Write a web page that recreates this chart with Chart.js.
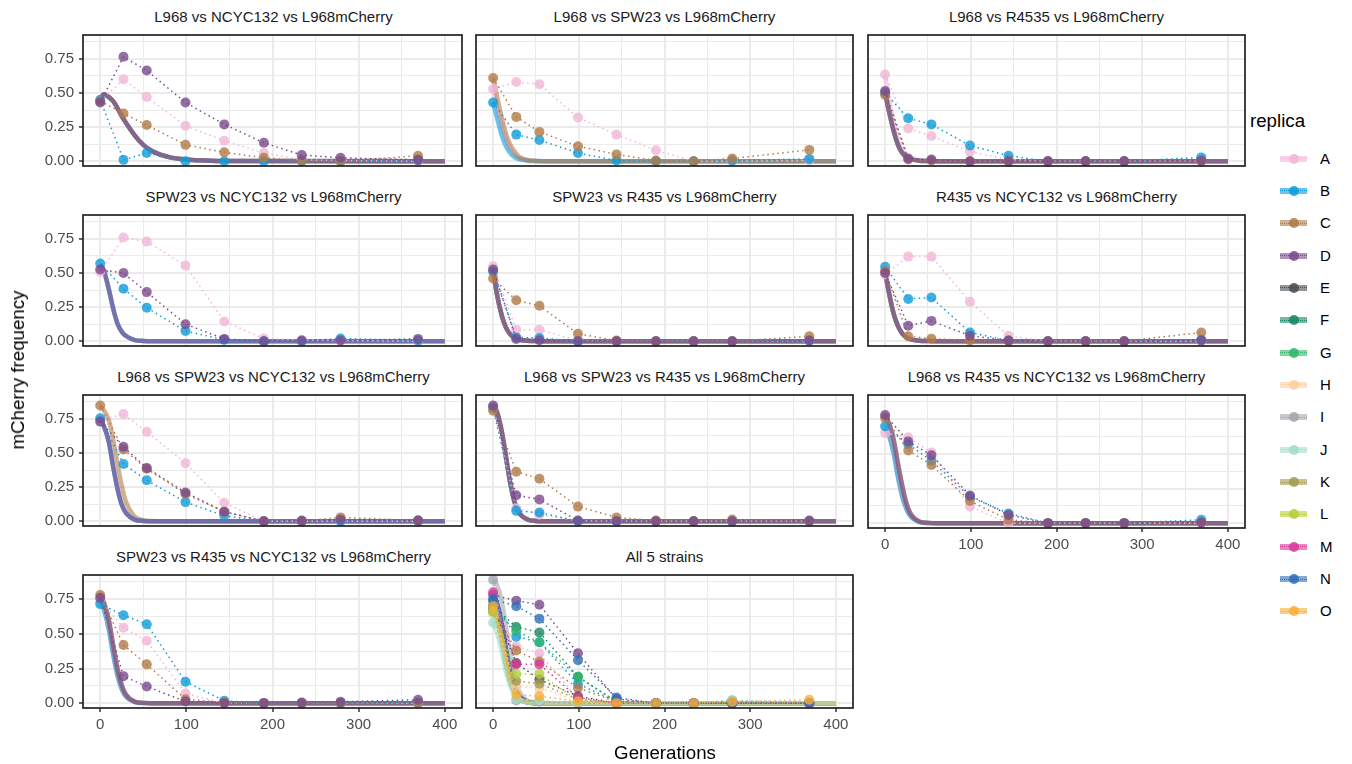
<!DOCTYPE html>
<html>
<head>
<meta charset="utf-8">
<script src="https://cdn.jsdelivr.net/npm/chart.js@4.4.1/dist/chart.umd.min.js"></script>
<style>
  body { margin:0; background:#fff; font-family:"Liberation Sans", Arial, sans-serif; }
  #page { position:relative; width:1352px; height:764px; overflow:hidden; }
  .panel { position:absolute; }
  .strip { position:absolute; width:381px; text-align:center; font-size:15px; color:#1a1a1a; white-space:nowrap; }
  .axis-title { position:absolute; font-size:18.7px; color:#000; white-space:nowrap; }
  .legend-title { position:absolute; left:1250px; top:110px; font-size:18.7px; color:#000; }
  .key { position:absolute; left:1280px; width:27px; height:20px; }
  .key .fit { position:absolute; left:0; top:7px; width:27px; height:6px; opacity:.6; }
  .key .dot { position:absolute; left:8.5px; top:5px; width:10px; height:10px; border-radius:50%; opacity:.85; }
  .key-label { position:absolute; left:1320px; font-size:15px; color:#000; }
</style>
</head>
<body>
<div id="page"></div>
<script>
/* ===========================
   mCherry frequency facets
   =========================== */

const GENS = [0, 27, 54, 99, 144, 190, 234, 279, 369];
const FIT_X = [0, 4, 10, 15, 20, 25, 30, 40, 50, 60, 80, 100, 150, 400];
const X_TICKS = [0, 100, 200, 300, 400];
const X_GRID = [0, 50, 100, 150, 200, 250, 300, 350, 400];
const Y_TICKS = [0, 0.25, 0.5, 0.75];
const Y_GRID = [0, 0.125, 0.25, 0.375, 0.5, 0.625, 0.75, 0.875];

const REPLICAS = ['A','B','C','D','E','F','G','H','I','J','K','L','M','N','O'];
const COLORS = ['#f0b6d6','#0e9bda','#b27a47','#7b4a8c','#474d54','#178767','#33b56b','#f9cfa5',
                '#a3a8ae','#a2ddcb','#a39a50','#b4ce3e','#d6399a','#2d6fb5','#f9ae37'];

const TITLES = [
  'L968 vs NCYC132 vs L968mCherry',
  'L968 vs SPW23 vs L968mCherry',
  'L968 vs R4535 vs L968mCherry',
  'SPW23 vs NCYC132 vs L968mCherry',
  'SPW23 vs R435 vs L968mCherry',
  'R435 vs NCYC132 vs L968mCherry',
  'L968 vs SPW23 vs NCYC132 vs L968mCherry',
  'L968 vs SPW23 vs R435 vs L968mCherry',
  'L968 vs R435 vs NCYC132 vs L968mCherry',
  'SPW23 vs R435 vs NCYC132 vs L968mCherry',
  'All 5 strains'
];

// observed frequencies per replica, one value per entry of GENS
const P1 = {
  A: [0.44, 0.60, 0.47, 0.26, 0.15, 0.06, 0.01, 0.005, 0],
  B: [0.45, 0.01, 0.06, 0, 0, 0, 0, 0, 0.01],
  C: [0.44, 0.35, 0.265, 0.12, 0.065, 0.025, 0.005, 0, 0.04],
  D: [0.43, 0.765, 0.665, 0.43, 0.27, 0.135, 0.045, 0.025, 0.01]
};
const P2 = {
  A: [0.53, 0.58, 0.565, 0.32, 0.195, 0.08, 0, 0, 0.005],
  B: [0.43, 0.195, 0.155, 0.06, 0.005, 0, 0, 0.005, 0.017],
  C: [0.61, 0.325, 0.215, 0.11, 0.05, 0.005, 0, 0.02, 0.083]
};
const P3 = {
  A: [0.635, 0.24, 0.185, 0.07, 0.012, 0, 0, 0, 0],
  B: [0.5, 0.315, 0.27, 0.115, 0.04, 0, 0, 0, 0.028],
  C: [0.485, 0.012, 0.005, 0, 0, 0, 0, 0, 0],
  D: [0.515, 0.02, 0.012, 0, 0, 0, 0, 0, 0.005]
};
const P4 = {
  A: [0.51, 0.76, 0.73, 0.555, 0.145, 0.02, 0.01, 0.005, 0],
  B: [0.57, 0.385, 0.245, 0.075, 0.01, 0, 0, 0.02, 0.005],
  D: [0.525, 0.50, 0.36, 0.125, 0.017, 0, 0.005, 0.005, 0.017]
};
const P5 = {
  A: [0.55, 0.085, 0.085, 0.005, 0, 0, 0, 0, 0],
  B: [0.51, 0.028, 0.024, 0, 0, 0, 0, 0, 0.005],
  C: [0.46, 0.30, 0.26, 0.054, 0.005, 0, 0, 0, 0.036],
  D: [0.525, 0.017, 0.007, 0, 0, 0, 0, 0, 0.005]
};
const P6 = {
  A: [0.49, 0.62, 0.62, 0.29, 0.04, 0, 0, 0, 0],
  B: [0.545, 0.31, 0.32, 0.064, 0.005, 0, 0, 0, 0.012],
  C: [0.515, 0.036, 0.019, 0.005, 0, 0, 0, 0, 0.064],
  D: [0.50, 0.114, 0.149, 0.04, 0.005, 0, 0, 0, 0.005]
};
const P7 = {
  A: [0.74, 0.785, 0.655, 0.425, 0.135, 0, 0, 0, 0],
  B: [0.755, 0.42, 0.30, 0.14, 0.04, 0, 0, 0, 0],
  C: [0.848, 0.525, 0.385, 0.20, 0.07, 0, 0, 0.028, 0.005],
  D: [0.73, 0.545, 0.39, 0.21, 0.07, 0, 0.005, 0.012, 0.007]
};
const P8 = {
  A: [0.84, 0.095, 0.047, 0.005, 0, 0, 0, 0, 0],
  B: [0.83, 0.076, 0.064, 0, 0, 0, 0, 0, 0],
  C: [0.81, 0.362, 0.312, 0.107, 0.028, 0.005, 0, 0.012, 0],
  D: [0.848, 0.19, 0.16, 0.005, 0, 0, 0, 0, 0.005]
};
const P9 = {
  A: [0.65, 0.62, 0.51, 0.12, 0, 0, 0, 0, 0],
  B: [0.70, 0.57, 0.45, 0.19, 0.07, 0, 0, 0, 0.024],
  C: [0.76, 0.525, 0.42, 0.16, 0.024, 0, 0, 0, 0.005],
  D: [0.78, 0.59, 0.49, 0.20, 0.059, 0, 0, 0, 0.005]
};
const P10 = {
  A: [0.745, 0.545, 0.45, 0.07, 0, 0, 0, 0, 0],
  B: [0.715, 0.635, 0.57, 0.155, 0.017, 0, 0, 0, 0.005],
  C: [0.78, 0.42, 0.28, 0.028, 0.005, 0, 0, 0, 0],
  D: [0.76, 0.195, 0.12, 0.012, 0, 0, 0.005, 0.01, 0.024]
};
const P11 = {
  A: [0.72, 0.41, 0.36, 0.03, 0, 0, 0, 0.005, 0],
  B: [0.74, 0.48, 0.44, 0.14, 0.01, 0, 0, 0, 0],
  C: [0.67, 0.38, 0.30, 0.11, 0.01, 0, 0, 0.01, 0],
  D: [0.78, 0.74, 0.71, 0.36, 0.03, 0, 0, 0, 0],
  E: [0.70, 0.29, 0.17, 0.05, 0, 0, 0, 0, 0],
  F: [0.70, 0.55, 0.51, 0.19, 0.01, 0, 0, 0, 0],
  G: [0.68, 0.52, 0.44, 0.19, 0.01, 0, 0, 0.02, 0],
  H: [0.64, 0.12, 0.11, 0.02, 0, 0, 0, 0, 0],
  I: [0.89, 0.02, 0.01, 0, 0, 0, 0, 0, 0],
  J: [0.58, 0.03, 0.02, 0, 0, 0, 0, 0.02, 0],
  K: [0.66, 0.16, 0.14, 0.03, 0, 0, 0, 0, 0],
  L: [0.66, 0.21, 0.21, 0.02, 0, 0, 0, 0, 0],
  M: [0.80, 0.28, 0.28, 0.04, 0, 0, 0, 0, 0],
  N: [0.75, 0.70, 0.61, 0.31, 0.04, 0, 0, 0, 0],
  O: [0.70, 0.06, 0.05, 0.012, 0, 0, 0, 0.01, 0.024]
};

// fitted curves, read at FIT_X, drawn once for every replica key listed
const F1 = [{ keys:'ABCD', y:[0.44,0.49,0.47,0.44,0.39,0.33,0.28,0.19,0.12,0.075,0.03,0.012,0.001,0] }];
const F2 = [
  { keys:'A', y:[0.52,0.41,0.26,0.16,0.09,0.05,0.025,0.006,0.001,0,0,0,0,0] },
  { keys:'B', y:[0.43,0.33,0.19,0.11,0.06,0.03,0.015,0.004,0.001,0,0,0,0,0] },
  { keys:'C', y:[0.60,0.49,0.32,0.20,0.12,0.07,0.035,0.009,0.002,0,0,0,0,0] }
];
const F3 = [
  { keys:'A', y:[0.63,0.48,0.28,0.15,0.08,0.04,0.02,0.005,0.001,0,0,0,0,0] },
  { keys:'BCD', y:[0.50,0.38,0.22,0.12,0.06,0.03,0.015,0.004,0.001,0,0,0,0,0] }
];
const F4 = [{ keys:'ABD', y:[0.56,0.52,0.38,0.24,0.13,0.07,0.038,0.008,0.002,0,0,0,0,0] }];
const F5 = [{ keys:'ABCD', y:[0.52,0.36,0.19,0.10,0.05,0.024,0.012,0.003,0.001,0,0,0,0,0] }];
const F6 = [{ keys:'ABCD', y:[0.51,0.37,0.20,0.11,0.055,0.027,0.013,0.003,0.001,0,0,0,0,0] }];
const F7 = [
  { keys:'C', y:[0.84,0.815,0.74,0.60,0.42,0.26,0.14,0.035,0.008,0.002,0,0,0,0] },
  { keys:'ABD', y:[0.74,0.70,0.58,0.40,0.24,0.12,0.06,0.012,0.002,0,0,0,0,0] }
];
const F8 = [{ keys:'ABCD', y:[0.85,0.81,0.66,0.47,0.28,0.14,0.065,0.013,0.002,0,0,0,0,0] }];
const F9 = [
  { keys:'AB', y:[0.68,0.64,0.50,0.33,0.19,0.10,0.045,0.008,0.001,0,0,0,0,0] },
  { keys:'CD', y:[0.76,0.73,0.60,0.43,0.27,0.14,0.065,0.012,0.002,0,0,0,0,0] }
];
const F10 = [
  { keys:'AB', y:[0.72,0.68,0.53,0.35,0.20,0.10,0.045,0.008,0.001,0,0,0,0,0] },
  { keys:'CD', y:[0.77,0.73,0.60,0.42,0.25,0.13,0.06,0.011,0.002,0,0,0,0,0] }
];
const F11 = [
  { keys:'I', y:[0.89,0.86,0.74,0.55,0.35,0.19,0.09,0.018,0.003,0,0,0,0,0] },
  { keys:'BDMN', y:[0.78,0.73,0.57,0.38,0.22,0.11,0.05,0.009,0.001,0,0,0,0,0] },
  { keys:'ACEFGHKLO', y:[0.68,0.62,0.46,0.29,0.16,0.08,0.035,0.006,0.001,0,0,0,0,0] },
  { keys:'J', y:[0.58,0.52,0.37,0.22,0.12,0.06,0.025,0.004,0,0,0,0,0,0] }
];

const PANELS = [P1,P2,P3,P4,P5,P6,P7,P8,P9,P10,P11];
const FITS = [F1,F2,F3,F4,F5,F6,F7,F8,F9,F10,F11];

const COL_LEFT = [83, 474, 866];
const ROW_TOP = [33, 213, 393, 573];
const PW = 381, PH = 135, PAD = 3;

Chart.defaults.font.family = '"Liberation Sans", Arial, sans-serif';

function rgba(hex, a) {
  const n = parseInt(hex.slice(1), 16);
  return `rgba(${n>>16},${(n>>8)&255},${n&255},${a})`;
}
const colorOf = k => COLORS[REPLICAS.indexOf(k)];
const near = (v, list) => list.some(t => Math.abs(t - v) < 1e-6);

// fixes an axis to an exact thickness and drops the label overhang padding
function pinAxis(s, size) {
  if (s.isHorizontal()) s.height = size; else s.width = size;
  s.paddingTop = 0; s.paddingBottom = 0; s.paddingLeft = 0; s.paddingRight = 0;
}

const panelBox = {
  id: 'panelBox',
  afterDraw(chart) {
    const { ctx, chartArea: a } = chart;
    ctx.save();
    ctx.strokeStyle = '#222';
    ctx.lineWidth = 1.7;
    ctx.strokeRect(a.left, a.top, a.width, a.height);
    ctx.restore();
  }
};

const page = document.getElementById('page');

PANELS.forEach((panel, i) => {
  const row = Math.floor(i / 3), col = i % 3;
  const showY = col === 0;
  const showX = i >= 8;           // bottom panel of each column
  const yW = showY ? 83 : 0;
  const xH = showX ? 40 : 0;
  const left = COL_LEFT[col] - (showY ? 83 : PAD);
  const top = ROW_TOP[row] - PAD;
  const w = (showY ? 83 : PAD) + PW + PAD;
  const h = PAD + PH + (showX ? 40 : PAD);

  const strip = document.createElement('div');
  strip.className = 'strip';
  strip.style.left = COL_LEFT[col] + 'px';
  strip.style.top = (ROW_TOP[row] - 25) + 'px';
  strip.textContent = TITLES[i];
  page.appendChild(strip);

  const box = document.createElement('div');
  box.className = 'panel';
  Object.assign(box.style, { left:left+'px', top:top+'px', width:w+'px', height:h+'px' });
  const cv = document.createElement('canvas');
  cv.width = w; cv.height = h;
  box.appendChild(cv);
  page.appendChild(box);

  const datasets = [];
  FITS[i].forEach(f => {
    f.keys.split('').forEach(k => {
      datasets.push({
        data: FIT_X.map((x, j) => ({ x, y: f.y[j] })),
        borderColor: rgba(colorOf(k), 0.6),
        borderWidth: 4.5,
        pointRadius: 0,
        cubicInterpolationMode: 'monotone',
        order: 2
      });
    });
  });
  Object.keys(panel).forEach(k => {
    const c = colorOf(k);
    datasets.push({
      data: GENS.map((x, j) => ({ x, y: panel[k][j] })),
      borderColor: c,
      borderWidth: 1.5,
      borderDash: [1.5, 3.5],
      pointRadius: 5,
      pointBackgroundColor: rgba(c, 0.8),
      pointBorderWidth: 0,
      tension: 0,
      order: 1
    });
  });
  // Chart.js paints the lowest index last; later replicas should sit on top
  datasets.reverse();

  new Chart(cv, {
    type: 'line',
    data: { datasets },
    options: {
      responsive: false,
      animation: false,
      events: [],
      layout: { padding: { left: showY ? 0 : PAD, right: PAD, top: PAD, bottom: showX ? 0 : PAD } },
      plugins: { legend: { display:false }, tooltip: { enabled:false } },
      scales: {
        x: {
          type: 'linear', min: -20, max: 420,
          afterBuildTicks: s => { s.ticks = X_GRID.map(v => ({ value:v })); },
          afterFit: s => pinAxis(s, xH),
          border: { display:false },
          grid: {
            color: '#ebebeb',
            lineWidth: c => near(c.tick.value, X_TICKS) ? 2 : 1,
            drawTicks: showX, tickLength: 4, tickWidth: 1.5,
            tickColor: c => near(c.tick.value, X_TICKS) ? '#333' : 'rgba(0,0,0,0)'
          },
          ticks: {
            display: showX, color:'#4d4d4d', font:{ size:15 }, padding: 4, maxRotation: 0,
            autoSkip: false,
            callback: v => near(v, X_TICKS) ? v : ''
          }
        },
        y: {
          type: 'linear', min: -0.035, max: 0.925,
          afterBuildTicks: s => { s.ticks = Y_GRID.map(v => ({ value:v })); },
          afterFit: s => pinAxis(s, yW),
          border: { display:false },
          grid: {
            color: '#ebebeb',
            lineWidth: c => near(c.tick.value, Y_TICKS) ? 2 : 1,
            drawTicks: showY, tickLength: 4, tickWidth: 1.5,
            tickColor: c => near(c.tick.value, Y_TICKS) ? '#333' : 'rgba(0,0,0,0)'
          },
          ticks: {
            display: showY, color:'#4d4d4d', font:{ size:15 }, padding: 5,
            autoSkip: false,
            callback: v => near(v, Y_TICKS) ? v.toFixed(2) : ''
          }
        }
      }
    },
    plugins: [panelBox]
  });
});

// axis titles
const xt = document.createElement('div');
xt.className = 'axis-title';
xt.textContent = 'Generations';
Object.assign(xt.style, { left:'665px', top:'742px', transform:'translateX(-50%)' });
page.appendChild(xt);

const yt = document.createElement('div');
yt.className = 'axis-title';
yt.textContent = 'mCherry frequency';
Object.assign(yt.style, { left:'18px', top:'370px', transform:'translate(-50%,-50%) rotate(-90deg)' });
page.appendChild(yt);

// legend
const lt = document.createElement('div');
lt.className = 'legend-title';
lt.textContent = 'replica';
page.appendChild(lt);

REPLICAS.forEach((k, i) => {
  const cy = 158.5 + i * 32.35;
  const key = document.createElement('div');
  key.className = 'key';
  key.style.top = (cy - 10) + 'px';
  key.innerHTML = `<div class="fit" style="background:${COLORS[i]}"></div>` +
    `<div style="position:absolute;left:0;top:9.5px;width:27px;border-top:1.5px dotted ${COLORS[i]}"></div>` +
    `<div class="dot" style="background:${COLORS[i]}"></div>`;
  page.appendChild(key);
  const lab = document.createElement('div');
  lab.className = 'key-label';
  lab.style.top = (cy - 9) + 'px';
  lab.textContent = k;
  page.appendChild(lab);
});
</script>
</body>
</html>
